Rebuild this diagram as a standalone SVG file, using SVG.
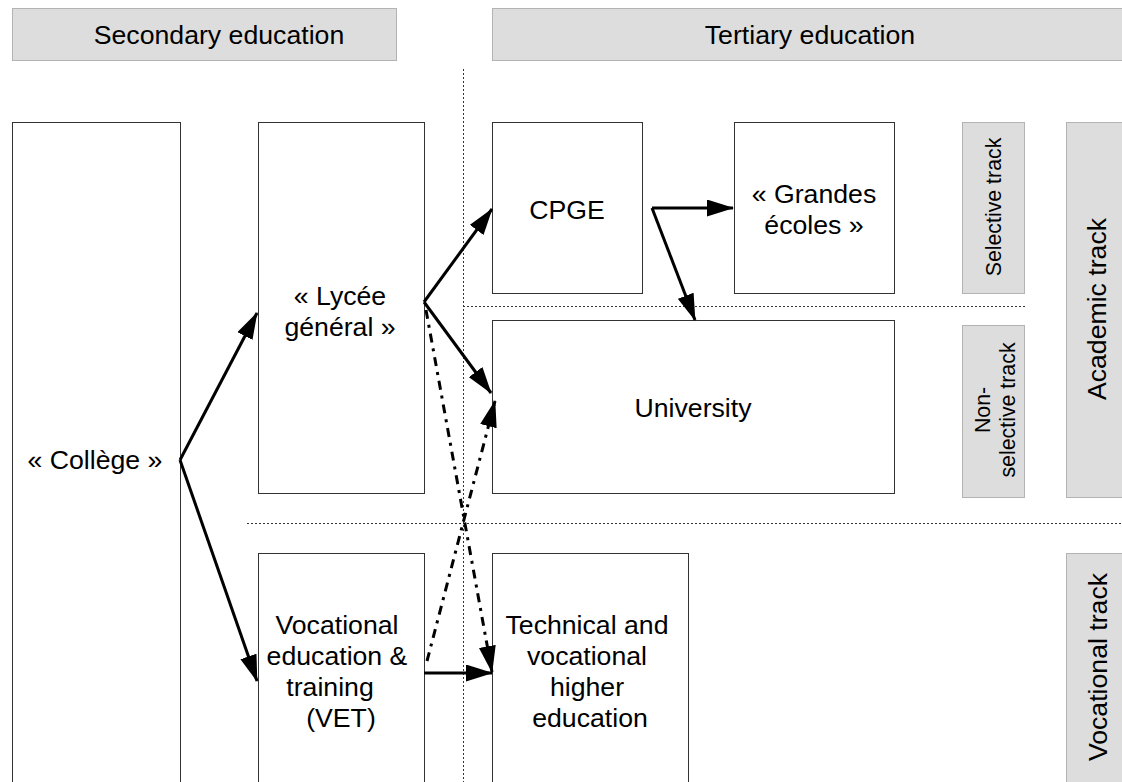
<svg xmlns="http://www.w3.org/2000/svg" width="1122" height="782" viewBox="0 0 1122 782">
<defs>
<style>
.hdr{fill:#dddddd;stroke:#b3b3b3;stroke-width:1}
.box{fill:#ffffff;stroke:#333333;stroke-width:1}
.t{font-family:"Liberation Sans",Arial,sans-serif;font-size:26.67px;fill:#000;text-anchor:middle}
.s{font-family:"Liberation Sans",Arial,sans-serif;font-size:21.33px;fill:#000;text-anchor:middle}
.sep{stroke:#333;stroke-width:1;stroke-dasharray:2 2;fill:none}
.a{stroke:#000;stroke-width:3;fill:none;marker-end:url(#ah)}
.d{stroke:#000;stroke-width:3;fill:none;stroke-dasharray:9 6 3 6;marker-end:url(#ah)}
</style>
<marker id="ah" viewBox="0 0 27 17" refX="26" refY="8.5" markerWidth="27" markerHeight="17" markerUnits="userSpaceOnUse" orient="auto">
<path d="M0,0 L27,8.5 L0,17 Z" fill="#000"/>
</marker>
</defs>
<rect width="1122" height="782" fill="#fff"/>
<g id="header-secondary"><rect class="hdr" x="12.5" y="8.5" width="384" height="52"/><text class="t" x="219" y="44">Secondary education</text></g>
<g id="header-tertiary"><rect class="hdr" x="492.5" y="8.5" width="640" height="52"/><text class="t" x="810" y="44">Tertiary education</text></g>
<g id="separators">
<line class="sep" x1="463.5" y1="69" x2="463.5" y2="782"/>
<line class="sep" x1="463" y1="306.5" x2="1025" y2="306.5"/>
<line class="sep" x1="247" y1="523.5" x2="1122" y2="523.5"/>
</g>
<g id="college"><rect class="box" x="12.5" y="122.5" width="168" height="670"/><text class="t" x="95" y="469">« Collège »</text></g>
<g id="lycee"><rect class="box" x="258.5" y="122.5" width="166" height="371"/><text class="t" x="340" y="305">« Lycée</text><text class="t" x="340" y="336">général »</text></g>
<g id="vet"><rect class="box" x="258.5" y="553.5" width="166" height="240"/><text class="t" x="337" y="634">Vocational</text><text class="t" x="337" y="665">education &amp;</text><text class="t" x="330" y="696">training</text><text class="t" x="341" y="727">(VET)</text></g>
<g id="cpge"><rect class="box" x="492.5" y="122.5" width="150" height="171"/><text class="t" x="567" y="219">CPGE</text></g>
<g id="grandes-ecoles"><rect class="box" x="734.5" y="122.5" width="160" height="171"/><text class="t" x="814" y="203">« Grandes</text><text class="t" x="814" y="234">écoles »</text></g>
<g id="university"><rect class="box" x="492.5" y="320.5" width="402" height="173"/><text class="t" x="693" y="417">University</text></g>
<g id="technical"><rect class="box" x="492.5" y="553.5" width="196" height="240"/><text class="t" x="587" y="634">Technical and</text><text class="t" x="587" y="665">vocational</text><text class="t" x="587" y="696">higher</text><text class="t" x="590" y="727">education</text></g>
<g id="selective-track"><rect class="hdr" x="962.5" y="122.5" width="62" height="171"/><text class="s" transform="translate(1001,207) rotate(-90)">Selective track</text></g>
<g id="non-selective-track"><rect class="hdr" x="962.5" y="325.5" width="62" height="172"/><text class="s" transform="translate(990,410) rotate(-90)"><tspan x="0" dy="0">Non-</tspan><tspan x="0" dy="25">selective track</tspan></text></g>
<g id="academic-track"><rect class="hdr" x="1066.5" y="122.5" width="60" height="375"/><text class="t" transform="translate(1106,309) rotate(-90)">Academic track</text></g>
<g id="vocational-track"><rect class="hdr" x="1066.5" y="553.5" width="60" height="240"/><text class="t" transform="translate(1107,667) rotate(-90)">Vocational track</text></g>
<g id="connectors">
<line class="a" x1="180" y1="460" x2="257" y2="313"/>
<line class="a" x1="180" y1="460" x2="257" y2="681"/>
<line class="a" x1="424" y1="302" x2="492" y2="209"/>
<line class="a" x1="424" y1="302" x2="491" y2="393"/>
<line class="d" x1="426" y1="310" x2="492" y2="672"/>
<line class="a" x1="424" y1="673" x2="492" y2="673"/>
<line class="d" x1="427" y1="661" x2="495" y2="401"/>
<line class="a" x1="652" y1="208" x2="733" y2="208"/>
<line class="a" x1="652" y1="208" x2="695" y2="320"/>
</g>
</svg>
